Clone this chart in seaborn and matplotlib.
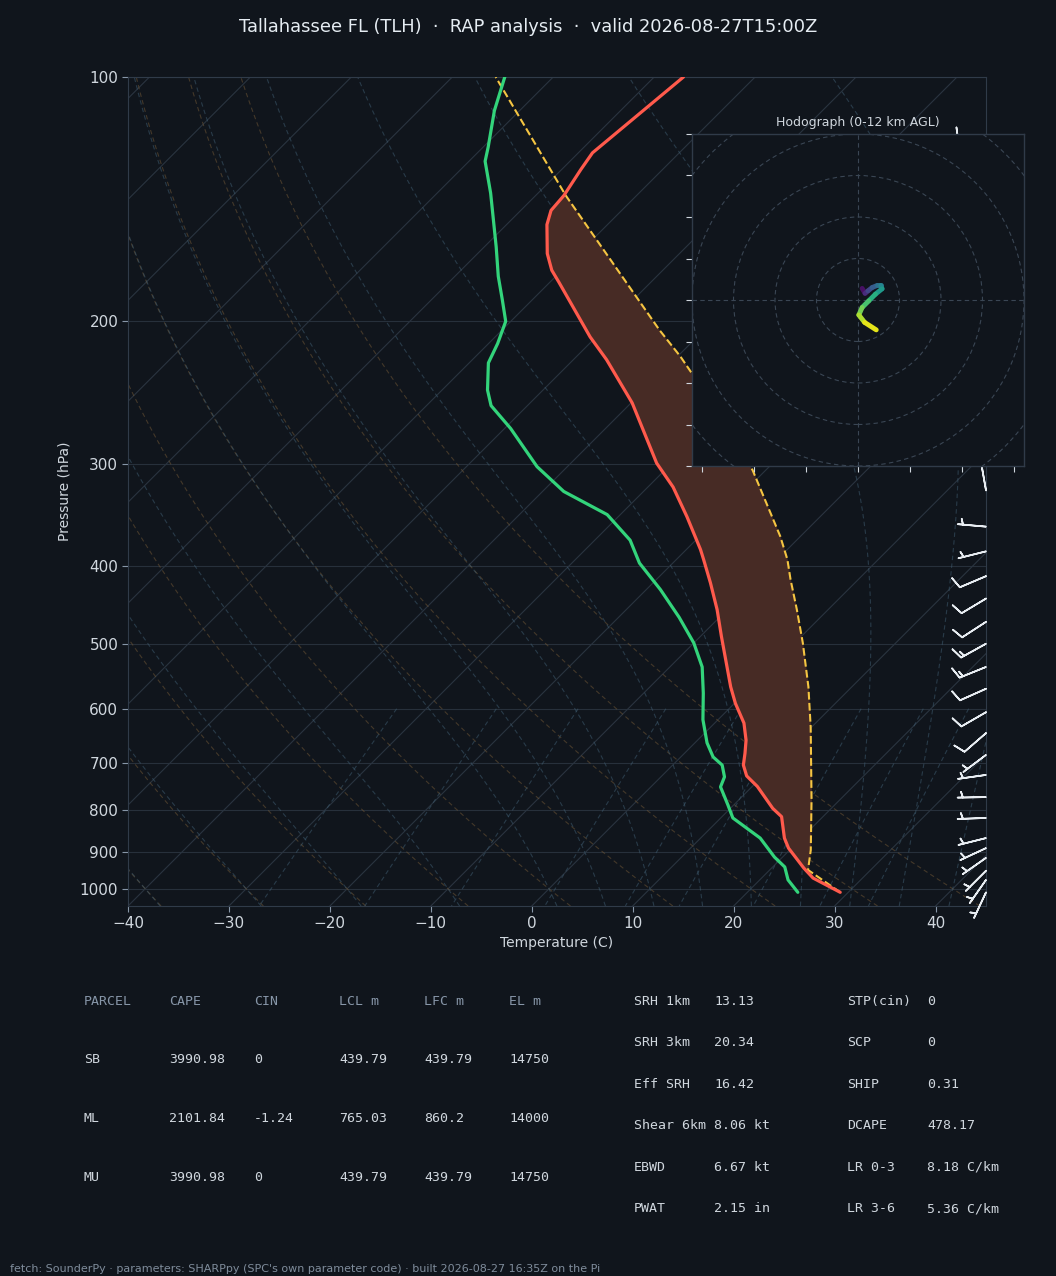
import numpy as np
import seaborn as sns
import matplotlib
matplotlib.use("Agg")
import matplotlib.pyplot as plt
from matplotlib.collections import LineCollection
from matplotlib.patches import Circle
from matplotlib.ticker import FixedLocator, FuncFormatter, NullLocator, MultipleLocator

# ---- sounding ----
t_pres = [1010, 970, 943, 891, 866, 815, 796, 748, 726, 704, 681, 656, 625, 591, 564, 522, 489,
          453, 420, 393, 382, 348, 320, 299, 252, 223, 209, 179, 173, 165, 152, 146, 140, 130,
          124, 109, 100]
t_temp = [29.2, 25.1, 23.2, 19.7, 18.3, 15.9, 14.2, 10.5, 8.4, 7.0, 6.0, 4.8, 2.9, 0.1, -2.0,
          -5.2, -7.9, -11.0, -14.3, -17.3, -18.6, -23.2, -27.5, -31.5, -39.9, -46.7, -50.6,
          -59.1, -61.0, -63.1, -66.0, -67.0, -67.2, -68.1, -68.6, -67.7, -67.1]

td_pres = [1010, 975, 940, 914, 866, 818, 788, 749, 728, 704, 688, 661, 619, 574, 533, 498, 463,
           428, 397, 372, 346, 324, 302, 271, 254, 243, 225, 213, 200, 188, 176, 162, 139, 127,
           122, 110, 100]
td_temp = [25.0, 22.8, 21.2, 19.2, 15.9, 11.2, 9.4, 6.9, 6.3, 4.9, 3.2, 1.2, -1.5, -4.1, -6.8,
           -10.0, -14.0, -18.6, -23.3, -26.5, -31.3, -37.9, -43.0, -49.4, -53.6, -55.5, -58.1,
           -59.1, -60.5, -63.0, -65.7, -68.8, -74.7, -78.4, -79.5, -82.5, -84.8]

parcel_pres = [1010, 948, 896, 777, 632, 564, 498, 453, 416, 393, 368, 305, 231, 221, 205, 140, 100]
parcel_temp = [29.2, 23.8, 22.1, 17.2, 9.9, 5.7, 0.8, -3.1, -6.7, -9.0, -12.0, -21.3, -37.1,
               -39.7, -44.4, -67.0, -85.7]

# wind barbs: pressure, direction (deg from), speed (kt)
barb_pres = [1010, 975, 950, 916, 891, 866, 818, 771, 724, 684, 643, 606, 567, 533, 499, 469,
             439, 412, 384, 358, 323, 290, 260, 230, 200, 175, 150, 135, 121]
barb_dir = [205, 215, 225, 235, 245, 256, 268, 269, 262, 233, 229, 240, 246, 248, 241, 237,
            239, 247, 256, 275, 350, 340, 320, 310, 300, 295, 290, 285, 280]
barb_spd = [5, 5, 5, 5, 5, 5, 5, 5, 5, 5, 10, 10, 10, 15, 15, 10, 10, 10, 5, 5, 10, 10, 15, 15,
            15, 15, 15, 10, 10]

# hodograph (m/s), height km AGL
hodo_h = [0, 1, 2, 3, 4, 5, 6, 7, 8, 9, 10, 11, 12]
hodo_u = [1.0, 1.7, 2.4, 3.4, 4.6, 5.5, 5.8, 4.2, 2.6, 1.0, 0.2, 1.6, 4.4]
hodo_v = [2.8, 1.6, 2.2, 3.0, 3.5, 3.5, 2.7, 1.4, -0.2, -1.8, -3.6, -5.4, -7.2]

# parameter tables
tbl_head = ["PARCEL", "CAPE", "CIN", "LCL m", "LFC m", "EL m"]
tbl_parcel = ["SB", "ML", "MU"]
tbl_cape = [3990.98, 2101.84, 3990.98]
tbl_cin = [0, -1.24, 0]
tbl_lcl = [439.79, 765.03, 439.79]
tbl_lfc = [439.79, 860.2, 439.79]
tbl_el = [14750, 14000, 14750]

kin_names = ["SRH 1km", "SRH 3km", "Eff SRH", "Shear 6km", "EBWD", "PWAT"]
kin_vals = ["13.13", "20.34", "16.42", "8.06 kt", "6.67 kt", "2.15 in"]
cmp_names = ["STP(cin)", "SCP", "SHIP", "DCAPE", "LR 0-3", "LR 3-6"]
cmp_vals = ["0", "0", "0.31", "478.17", "8.18 C/km", "5.36 C/km"]

title = "Tallahassee FL (TLH)  \u00b7  RAP analysis  \u00b7  valid 2026-08-27T15:00Z"
footer = ("fetch: SounderPy \u00b7 parameters: SHARPpy (SPC's own parameter code) \u00b7 "
          "built 2026-08-27 16:35Z on the Pi")

# ---- style ----
bg = "#10151c"
grid_c = "#27303b"
spine_c = "#303b49"
text_c = "#d0d7de"
dim_c = "#8796a8"
red = "#ff5a4c"
green = "#33d47b"
yellow = "#f5c542"

sns.set_theme(style="dark", rc={"axes.facecolor": bg, "figure.facecolor": bg,
                                "axes.edgecolor": spine_c, "text.color": text_c,
                                "axes.labelcolor": text_c, "xtick.color": text_c,
                                "ytick.color": text_c})
plt.rcParams["font.family"] = ["DejaVu Sans"]

W, H = 1056, 1276
fig = plt.figure(figsize=(W / 100, H / 100), dpi=100)
ax = fig.add_axes([128 / W, 1 - 906 / H, 858 / W, 829 / H])

XMIN, XMAX, PBOT, PTOP = -40, 45, 1050, 100
K = (XMAX - XMIN) / 858 * 829 / np.log(PBOT / PTOP)   # 45 degree skew


def skew(t, p):
    return np.asarray(t, float) + K * np.log(PBOT / np.asarray(p, float))


# ---- background lines ----
p_bg = np.linspace(PBOT, PTOP, 200)
for t0 in np.arange(-130, 50, 10):
    ax.plot(skew(np.full_like(p_bg, t0), p_bg), p_bg, color="#2a3440", lw=0.8, zorder=1)

for th in np.arange(XMIN, XMAX + 1, 10):
    tt = (th + 273.15) * (p_bg / 1000.0) ** 0.2857 - 273.15
    ax.plot(skew(tt, p_bg), p_bg, color="#6e5535", lw=0.8, ls=(0, (4, 3)), alpha=0.55, zorder=1)

RD, CPD, LV, EPS = 287.04749, 1004.6662, 2.50084e6, 0.6219569


def dtdp(t, p):
    es = 6.112 * np.exp(17.67 * (t - 273.15) / (t - 29.65))
    rs = EPS * es / (p - es)
    return (RD * t + LV * rs) / (CPD + LV * LV * rs * EPS / (RD * t * t)) / p


def integrate(t0, plist):
    out = [t0]
    t = t0.copy()
    for p1, p2 in zip(plist[:-1], plist[1:]):
        h = p2 - p1
        k1 = dtdp(t, p1)
        k2 = dtdp(t + h / 2 * k1, p1 + h / 2)
        k3 = dtdp(t + h / 2 * k2, p1 + h / 2)
        k4 = dtdp(t + h * k3, p2)
        t = t + h / 6 * (k1 + 2 * k2 + 2 * k3 + k4)
        out.append(t)
    return np.array(out)


moist_t0 = np.concatenate([np.arange(XMIN, 0, 10), np.arange(0, XMAX + 1, 5)]) + 273.15
p_up = np.arange(1000.0, 99.0, -2.0)
p_dn = np.arange(1000.0, 1051.0, 2.0)
m_up = integrate(moist_t0, p_up)
m_dn = integrate(moist_t0, p_dn)
p_m = np.concatenate([p_dn[::-1], p_up[1:]])
t_m = np.concatenate([m_dn[::-1], m_up[1:]]) - 273.15
for j in range(len(moist_t0)):
    ax.plot(skew(t_m[:, j], p_m), p_m, color="#3d5a6e", lw=0.8, ls=(0, (4, 3)), alpha=0.55, zorder=1)

p_mix = np.linspace(600, PBOT, 60)
for w in [0.0004, 0.001, 0.002, 0.004, 0.007, 0.01, 0.016, 0.024, 0.032]:
    e = p_mix * w / (EPS + w)
    val = np.log(e / 6.112)
    td = 243.5 * val / (17.67 - val)
    ax.plot(skew(td, p_mix), p_mix, color="#3d5a6e", lw=0.8, ls=(0, (4, 3)), alpha=0.55, zorder=1)

# ---- CAPE shading ----
p_fill = np.array(sorted(set([p for p in t_pres + parcel_pres if 140 <= p <= 948]), reverse=True))
env_f = np.interp(np.log(p_fill), np.log(t_pres[::-1]), t_temp[::-1])
par_f = np.interp(np.log(p_fill), np.log(parcel_pres[::-1]), parcel_temp[::-1])
ax.fill_betweenx(p_fill, skew(env_f, p_fill), skew(par_f, p_fill), where=par_f >= env_f,
                 interpolate=True, color="#472b25", lw=0, zorder=2)

# ---- profiles ----
sns.lineplot(x=skew(parcel_temp, parcel_pres), y=parcel_pres, sort=False, estimator=None,
             color=yellow, lw=1.5, ls="--", ax=ax, zorder=4)
sns.lineplot(x=skew(td_temp, td_pres), y=td_pres, sort=False, estimator=None,
             color=green, lw=2.3, ax=ax, zorder=5)
sns.lineplot(x=skew(t_temp, t_pres), y=t_pres, sort=False, estimator=None,
             color=red, lw=2.3, ax=ax, zorder=5)

# ---- wind barbs ----
wd = np.deg2rad(barb_dir)
bu = -np.array(barb_spd) * np.sin(wd)
bv = -np.array(barb_spd) * np.cos(wd)
ax.barbs(np.full(len(barb_pres), XMAX), barb_pres, bu, bv, length=6.4, color="#e8edf2",
         linewidth=1.2, clip_on=False, zorder=6)

ax.set_yscale("log")
ax.set_ylim(PBOT, PTOP)
ax.set_xlim(XMIN, XMAX)
ax.yaxis.set_major_locator(FixedLocator([100, 200, 300, 400, 500, 600, 700, 800, 900, 1000]))
ax.yaxis.set_major_formatter(FuncFormatter(lambda v, _: f"{v:.0f}"))
ax.yaxis.set_minor_locator(NullLocator())
ax.xaxis.set_major_locator(MultipleLocator(10))
ax.grid(axis="y", color=grid_c, lw=0.8)
ax.grid(axis="x", visible=False)
ax.tick_params(axis="both", which="major", bottom=True, left=True, length=4, width=0.8,
               color=dim_c, labelcolor=text_c, labelsize=11, pad=3)
for s in ax.spines.values():
    s.set_color(spine_c)
    s.set_linewidth(0.8)
ax.set_xlabel("Temperature (C)", fontsize=10, color=text_c, labelpad=4)
ax.set_ylabel("Pressure (hPa)", fontsize=10, color=text_c, labelpad=6)

# ---- hodograph inset ----
hax = fig.add_axes([692 / W, 1 - 466 / H, 332 / W, 332 / H])
hax.set_facecolor(bg)
hax.set_xlim(-40, 40)
hax.set_ylim(-40, 40)
for r in range(10, 60, 10):
    hax.add_patch(Circle((0, 0), r, fill=False, ec="#3a4654", lw=0.8, ls=(0, (4, 3))))
hax.axhline(0, color="#3a4654", lw=0.8, ls=(0, (4, 3)))
hax.axvline(0, color="#3a4654", lw=0.8, ls=(0, (4, 3)))
pts = np.column_stack([hodo_u, hodo_v])
segs = np.stack([pts[:-1], pts[1:]], axis=1)
lc = LineCollection(segs, cmap="viridis", norm=plt.Normalize(0, 12), linewidths=3.5,
                    capstyle="round")
lc.set_array((np.array(hodo_h[:-1]) + np.array(hodo_h[1:])) / 2)
hax.add_collection(lc)
hax.xaxis.set_major_locator(MultipleLocator(12.5))
hax.yaxis.set_major_locator(MultipleLocator(10))
hax.tick_params(bottom=True, left=True, length=4, width=0.8, color=text_c,
                labelbottom=False, labelleft=False)
hax.grid(False)
for s in hax.spines.values():
    s.set_color(spine_c)
    s.set_linewidth(1.0)
hax.set_title("Hodograph (0-12 km AGL)", fontsize=9, color=text_c, pad=6)

# ---- title / tables / footer ----
fig.text(0.5, 1 - 27 / H, title, ha="center", va="center", fontsize=12.9, color="#e6edf3")

mono = dict(family="DejaVu Sans Mono", fontsize=9.5, va="center_baseline")
col_x = [84, 169, 254, 339, 424, 509]
for cx, h in zip(col_x, tbl_head):
    fig.text(cx / W, 1 - 1000 / H, h, color=dim_c, **mono)
for i, name in enumerate(tbl_parcel):
    y = 1 - (1058 + i * 59) / H
    row = [name] + [f"{v:g}" for v in (tbl_cape[i], tbl_cin[i], tbl_lcl[i], tbl_lfc[i], tbl_el[i])]
    for cx, s in zip(col_x, row):
        fig.text(cx / W, y, s, color=text_c, **mono)

for i in range(len(kin_names)):
    y = 1 - (1000 + i * 41.4) / H
    fig.text(634 / W, y, kin_names[i], color=text_c, **mono)
    fig.text(714 / W, y, kin_vals[i], color=text_c, **mono)
    fig.text(847 / W, y, cmp_names[i], color=text_c, **mono)
    fig.text(927 / W, y, cmp_vals[i], color=text_c, **mono)

fig.text(10 / W, 1 - 1269 / H, footer, ha="left", va="center", fontsize=8, color="#7f8c9b")

fig.savefig("out.png", dpi=100, facecolor=bg)
